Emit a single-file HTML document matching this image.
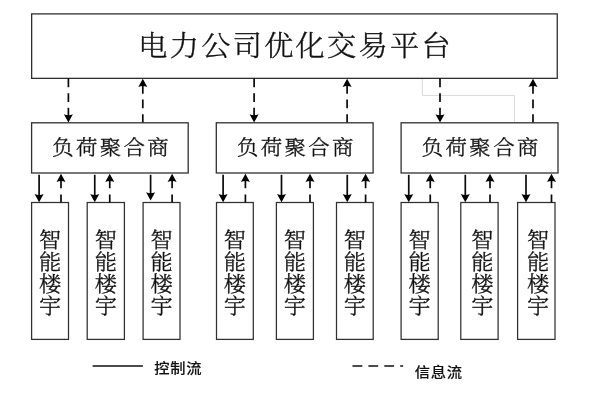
<!DOCTYPE html>
<html lang="zh-CN"><head><meta charset="utf-8"><title>电力公司优化交易平台</title>
<style>
html,body{margin:0;padding:0;background:#fff;}
body{width:600px;height:400px;overflow:hidden;}
svg{display:block;will-change:transform;}
.s{font-family:"Liberation Serif","Noto Serif CJK SC",serif;font-weight:300;fill:#111;stroke:#111;stroke-width:0.35;}
.g{font-family:"Liberation Sans","Noto Sans CJK SC",sans-serif;font-weight:500;fill:#111;stroke:#111;stroke-width:0.12;}
.b{fill:#fff;stroke:#303030;stroke-width:1.3;}
.c{fill:#fff;stroke:#303030;stroke-width:1.25;}
.l{stroke:#0a0a0a;stroke-width:1.7;fill:none;}
.d{stroke:#0a0a0a;stroke-width:1.7;fill:none;stroke-dasharray:8.8 5.85;}
.h{fill:#000;stroke:none;}
</style></head><body>
<svg width="600" height="400" viewBox="0 0 600 400">
<rect x="0" y="0" width="600" height="400" fill="#fff"/>
<rect class="b" x="31.65" y="13.9" width="525.6" height="64.45"/>
<path d="M422.3 79 V95.4 H514.6 V122" fill="none" stroke="#dadada" stroke-width="1"/>
<text class="s" transform="translate(295.6 56.0) scale(1.04 1)" x="0" y="0" font-size="28" text-anchor="middle" letter-spacing="2.27">电力公司优化交易平台</text>
<path class="d" d="M68.4 78.5 V117"/><path class="h" d="M68.4 122.6 l-4.5 -8.3 q4.5 2 9 0 z"/>
<path class="d" d="M142.8 123 V84"/><path class="h" d="M142.8 78.7 l-4.5 8.3 q4.5 -2 9 0 z"/>
<path class="d" d="M254.1 78.5 V117"/><path class="h" d="M254.1 122.6 l-4.5 -8.3 q4.5 2 9 0 z"/>
<path class="d" d="M347.1 123 V84"/><path class="h" d="M347.1 78.7 l-4.5 8.3 q4.5 -2 9 0 z"/>
<path class="d" d="M440 78.5 V117"/><path class="h" d="M440 122.6 l-4.5 -8.3 q4.5 2 9 0 z"/>
<path class="d" d="M533 123 V84"/><path class="h" d="M533 78.7 l-4.5 8.3 q4.5 -2 9 0 z"/>
<rect class="b" x="31.6" y="122.8" width="156.60" height="50.2"/>
<text class="s" transform="translate(111.60 154.8) scale(1.047 1)" x="0" y="0" font-size="20.5" text-anchor="middle" letter-spacing="2.23">负荷聚合商</text>
<rect class="b" x="216.3" y="122.8" width="156.80" height="50.2"/>
<text class="s" transform="translate(296.40 154.8) scale(1.047 1)" x="0" y="0" font-size="20.5" text-anchor="middle" letter-spacing="2.23">负荷聚合商</text>
<rect class="b" x="401.1" y="122.8" width="156.90" height="50.2"/>
<text class="s" transform="translate(481.25 154.8) scale(1.047 1)" x="0" y="0" font-size="20.5" text-anchor="middle" letter-spacing="2.23">负荷聚合商</text>
<rect class="c" x="31.6" y="202.5" width="36.90" height="136.9"/>
<path class="l" d="M39.1 174.8 V196.3"/><path class="h" d="M39.1 202.3 l-4.5 -8.3 q4.5 2 9 0 z"/>
<path class="d" d="M61 202.6 V179" style="stroke-dasharray:8.2 6.2"/><path class="h" d="M61 173.7 l-4.5 8.3 q4.5 -2 9 0 z"/>
<text class="s" transform="translate(50.05 246.9) scale(1.06 1)" font-size="21" text-anchor="middle"><tspan x="0" y="0.00">智</tspan><tspan x="0" y="22.25">能</tspan><tspan x="0" y="44.50">楼</tspan><tspan x="0" y="66.35">宇</tspan></text>
<rect class="c" x="87.2" y="202.5" width="37.20" height="136.9"/>
<path class="l" d="M94.75 174.8 V196.3"/><path class="h" d="M94.75 202.3 l-4.5 -8.3 q4.5 2 9 0 z"/>
<path class="d" d="M109.75 202.6 V179" style="stroke-dasharray:8.2 6.2"/><path class="h" d="M109.75 173.7 l-4.5 8.3 q4.5 -2 9 0 z"/>
<text class="s" transform="translate(105.80 246.9) scale(1.06 1)" font-size="21" text-anchor="middle"><tspan x="0" y="0.00">智</tspan><tspan x="0" y="22.25">能</tspan><tspan x="0" y="44.50">楼</tspan><tspan x="0" y="66.35">宇</tspan></text>
<rect class="c" x="143.1" y="202.5" width="36.90" height="136.9"/>
<path class="l" d="M150.6 174.8 V194.6"/><path class="h" d="M150.6 200.6 l-4.5 -8.3 q4.5 2 9 0 z"/>
<path class="d" d="M172.1 202.6 V179" style="stroke-dasharray:8.2 6.2"/><path class="h" d="M172.1 173.7 l-4.5 8.3 q4.5 -2 9 0 z"/>
<text class="s" transform="translate(161.55 246.9) scale(1.06 1)" font-size="21" text-anchor="middle"><tspan x="0" y="0.00">智</tspan><tspan x="0" y="22.25">能</tspan><tspan x="0" y="44.50">楼</tspan><tspan x="0" y="66.35">宇</tspan></text>
<rect class="c" x="216.5" y="202.5" width="36.80" height="136.9"/>
<path class="l" d="M223.1 174.8 V196.3"/><path class="h" d="M223.1 202.3 l-4.5 -8.3 q4.5 2 9 0 z"/>
<path class="d" d="M245.4 202.6 V179" style="stroke-dasharray:8.2 6.2"/><path class="h" d="M245.4 173.7 l-4.5 8.3 q4.5 -2 9 0 z"/>
<text class="s" transform="translate(234.90 246.9) scale(1.06 1)" font-size="21" text-anchor="middle"><tspan x="0" y="0.00">智</tspan><tspan x="0" y="22.25">能</tspan><tspan x="0" y="44.50">楼</tspan><tspan x="0" y="66.35">宇</tspan></text>
<rect class="c" x="276.4" y="202.5" width="37.00" height="136.9"/>
<path class="l" d="M281.5 174.8 V196.3"/><path class="h" d="M281.5 202.3 l-4.5 -8.3 q4.5 2 9 0 z"/>
<path class="d" d="M310 202.6 V179" style="stroke-dasharray:8.2 6.2"/><path class="h" d="M310 173.7 l-4.5 8.3 q4.5 -2 9 0 z"/>
<text class="s" transform="translate(294.90 246.9) scale(1.06 1)" font-size="21" text-anchor="middle"><tspan x="0" y="0.00">智</tspan><tspan x="0" y="22.25">能</tspan><tspan x="0" y="44.50">楼</tspan><tspan x="0" y="66.35">宇</tspan></text>
<rect class="c" x="336.5" y="202.5" width="36.70" height="136.9"/>
<path class="l" d="M347.25 174.8 V196.3"/><path class="h" d="M347.25 202.3 l-4.5 -8.3 q4.5 2 9 0 z"/>
<path class="d" d="M365.6 202.6 V179" style="stroke-dasharray:8.2 6.2"/><path class="h" d="M365.6 173.7 l-4.5 8.3 q4.5 -2 9 0 z"/>
<text class="s" transform="translate(354.85 246.9) scale(1.06 1)" font-size="21" text-anchor="middle"><tspan x="0" y="0.00">智</tspan><tspan x="0" y="22.25">能</tspan><tspan x="0" y="44.50">楼</tspan><tspan x="0" y="66.35">宇</tspan></text>
<rect class="c" x="401.1" y="202.5" width="37.10" height="136.9"/>
<path class="l" d="M408.75 174.8 V196.3"/><path class="h" d="M408.75 202.3 l-4.5 -8.3 q4.5 2 9 0 z"/>
<path class="d" d="M430.25 202.6 V179" style="stroke-dasharray:8.2 6.2"/><path class="h" d="M430.25 173.7 l-4.5 8.3 q4.5 -2 9 0 z"/>
<text class="s" transform="translate(419.65 246.9) scale(1.06 1)" font-size="21" text-anchor="middle"><tspan x="0" y="0.00">智</tspan><tspan x="0" y="22.25">能</tspan><tspan x="0" y="44.50">楼</tspan><tspan x="0" y="66.35">宇</tspan></text>
<rect class="c" x="460.8" y="202.5" width="37.30" height="136.9"/>
<path class="l" d="M465.3 174.8 V196.3"/><path class="h" d="M465.3 202.3 l-4.5 -8.3 q4.5 2 9 0 z"/>
<path class="d" d="M490 202.6 V179" style="stroke-dasharray:8.2 6.2"/><path class="h" d="M490 173.7 l-4.5 8.3 q4.5 -2 9 0 z"/>
<text class="s" transform="translate(482.35 246.9) scale(1.06 1)" font-size="21" text-anchor="middle"><tspan x="0" y="0.00">智</tspan><tspan x="0" y="22.25">能</tspan><tspan x="0" y="44.50">楼</tspan><tspan x="0" y="66.35">宇</tspan></text>
<rect class="c" x="517.6" y="202.5" width="37.40" height="136.9"/>
<path class="l" d="M526 174.8 V196.3"/><path class="h" d="M526 202.3 l-4.5 -8.3 q4.5 2 9 0 z"/>
<path class="d" d="M551.5 202.6 V179" style="stroke-dasharray:8.2 6.2"/><path class="h" d="M551.5 173.7 l-4.5 8.3 q4.5 -2 9 0 z"/>
<text class="s" transform="translate(538.00 246.9) scale(1.06 1)" font-size="21" text-anchor="middle"><tspan x="0" y="0.00">智</tspan><tspan x="0" y="22.25">能</tspan><tspan x="0" y="44.50">楼</tspan><tspan x="0" y="66.35">宇</tspan></text>
<path d="M92.6 366 H142.9" stroke="#111" stroke-width="1.7" fill="none"/>
<text class="g" transform="translate(154.2 373.3) scale(1.1 1)" x="0" y="0" font-size="13.9" letter-spacing="0.65">控制流</text>
<path d="M352.5 366 H403.1" stroke="#111" stroke-width="1.6" stroke-dasharray="9.8 6.1" fill="none"/>
<text class="g" transform="translate(414.7 376.9) scale(1.1 1)" x="0" y="0" font-size="13.9" letter-spacing="0.65">信息流</text>
</svg>
</body></html>
